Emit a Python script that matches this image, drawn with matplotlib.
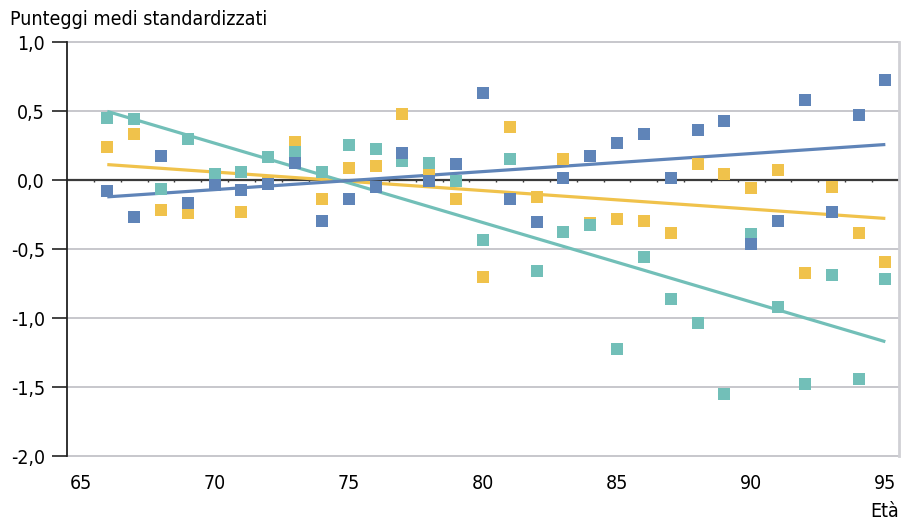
import numpy as np
import matplotlib
matplotlib.use("Agg")
import matplotlib.pyplot as plt
from matplotlib.ticker import FuncFormatter

plt.rcParams['font.family'] = ['DejaVu Sans']
plt.rcParams['font.stretch'] = 'condensed'

# età (anni) e punteggi medi standardizzati per tre serie
ages = list(range(66, 96))
blue_vals = [-0.075, -0.268, 0.174, -0.167, -0.034, -0.070, -0.025, 0.123, -0.293, -0.138,
             -0.046, 0.196, -0.003, 0.118, 0.630, -0.138, -0.300, 0.014, 0.174, 0.268,
             0.338, 0.014, 0.362, 0.432, -0.462, -0.293, 0.582, -0.232, 0.475, 0.726]
yellow_vals = [0.239, 0.338, -0.218, -0.239, 0.006, -0.232, -0.020, 0.280, -0.138, 0.087,
               0.106, 0.478, 0.062, -0.138, -0.703, 0.388, -0.119, 0.154, -0.310, -0.280,
               -0.293, -0.380, 0.120, 0.043, -0.058, 0.075, -0.674, -0.046, -0.380, -0.592]
teal_vals = [0.449, 0.442, -0.061, 0.297, 0.046, 0.062, 0.167, 0.207, 0.062, 0.256,
             0.227, 0.140, 0.123, -0.008, -0.430, 0.157, -0.655, -0.372, -0.327, -1.220,
             -0.555, -0.860, -1.035, -1.546, -0.391, -0.918, -1.476, -0.684, -1.442, -0.717]
y_ticks = [1.0, 0.5, 0.0, -0.5, -1.0, -1.5, -2.0]
x_ticks = [65, 70, 75, 80, 85, 90, 95]

colors = {'blue': '#5F84B8', 'yellow': '#F0C24B', 'teal': '#72BFB8'}
series = [('yellow', yellow_vals), ('teal', teal_vals), ('blue', blue_vals)]

fig = plt.figure(figsize=(9.06, 5.22), dpi=100)
ax = fig.add_axes([0.074, 0.126, 0.918, 0.793])

x = np.array(ages)
for name, vals in series:
    k, q = np.polyfit(x, vals, 1)
    ax.plot(x, k * x + q, color=colors[name], lw=2.3, zorder=3, solid_capstyle='butt')
for name, vals in series:
    ax.plot(x, vals, 's', color=colors[name], ms=8.4, mew=0, zorder=4, ls='none')

ax.set_xlim(64.5, 95.5)
ax.set_ylim(-2.0, 1.0)

# griglia orizzontale e linea dello zero
for v in y_ticks:
    if v == 0:
        ax.axhline(v, color='#3a3a3a', lw=1.6, zorder=2)
    else:
        ax.axhline(v, color='#bdbdc3', lw=1.2, zorder=1, clip_on=False)
minor = np.arange(65.5, 95.5, 1.0)
ax.vlines(minor, -0.012, 0.012, color='#3a3a3a', lw=1.0, zorder=2)

for s in ['top', 'bottom']:
    ax.spines[s].set_visible(False)
ax.spines['right'].set_color('#d0d0d5')
ax.spines['right'].set_linewidth(2.0)
ax.spines['left'].set_color('#222222')
ax.spines['left'].set_linewidth(1.3)

ax.set_yticks(y_ticks)
ax.yaxis.set_major_formatter(FuncFormatter(lambda v, p: f"{v:.1f}".replace('.', ',')))
ax.tick_params(axis='y', length=11, width=1.2, color='#222222', pad=5, labelsize=14)
ax.set_xticks(x_ticks)
ax.tick_params(axis='x', length=0, pad=13, labelsize=14)

ax.set_xlabel('Età', loc='right', fontsize=14, labelpad=6)
fig.text(0.011, 0.963, 'Punteggi medi standardizzati', fontsize=14, va='center', ha='left')

fig.savefig('out.png', dpi=100)
